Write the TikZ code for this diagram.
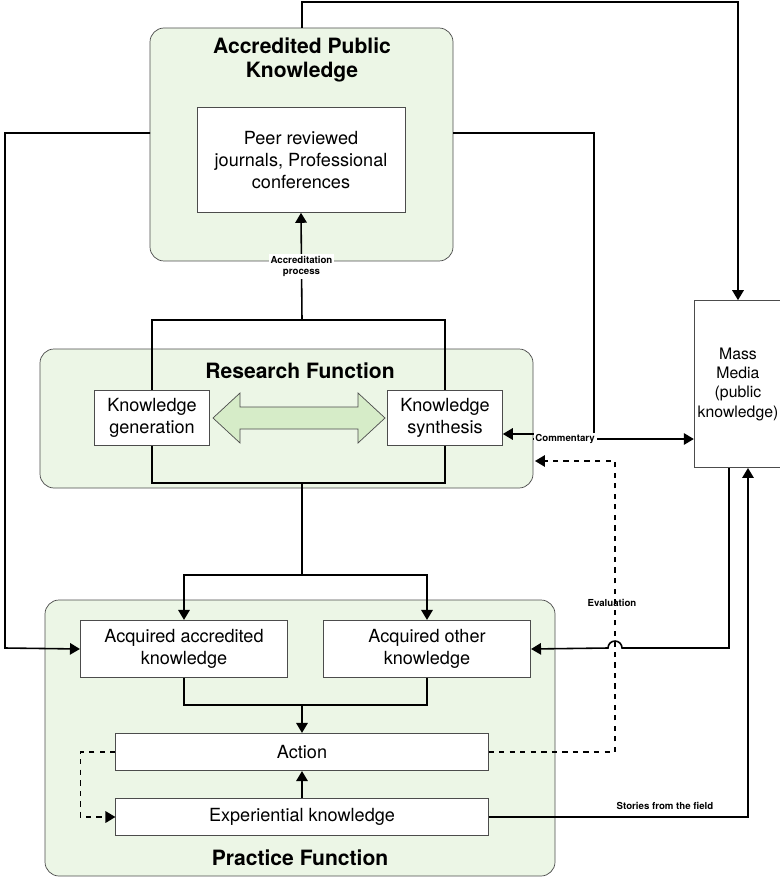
\documentclass[tikz,border=0pt]{standalone}
\usepackage{fontspec}
\setmainfont{TeX Gyre Heros}
\usetikzlibrary{positioning, arrows.meta}
\definecolor{panelgreen}{RGB}{236,246,230}
\definecolor{arrowgreen}{RGB}{214,236,200}
\begin{document}
\begin{tikzpicture}[x=0.02cm, y=-0.02cm, >={Triangle[scale=1.1]},
	panel/.style={draw=black!70, fill=panelgreen, rounded corners=8pt},
	box/.style={draw=black!70, fill=white, align=center, font=\fontsize{10.3}{12.5}\selectfont, inner sep=2pt},
	title/.style={font=\fontsize{12}{14}\selectfont\bfseries, align=center},
	small/.style={font=\fontsize{5.5}{6.5}\selectfont\bfseries, align=center, fill=white, inner sep=1pt},
	link/.style={line width=0.9pt}]
	\useasboundingbox (0,0) rectangle (780,878);
	
	% panels
	\draw[panel] (150,28) rectangle (453,261);
	\draw[panel] (40,349) rectangle (533,488);
	\draw[panel] (45,600) rectangle (555,876);
	\node[title] (apk) at (302,60) {Accredited Public\\Knowledge};
	\node[title] (rf) at (300,371) {Research Function};
	\node[title] (pf) at (300,858) {Practice Function};
	
	% boxes
	\node[box, minimum width=4.16cm, minimum height=2.1cm] (peer) at (301,160) {Peer reviewed\\journals, Professional\\conferences};
	
	% bracket
	\draw[link] (152,320) rectangle (445,483);
	\node[box, minimum width=2.3cm, minimum height=1.1cm] (kgen) at (152,418) {Knowledge\\generation};
	\node[box, minimum width=2.3cm, minimum height=1.1cm] (ksyn) at (445,418) {Knowledge\\synthesis};
	% double arrow between them
	\draw[draw=black!70, fill=arrowgreen] (213,418) -- (240,393) -- (240,407) -- (358,407) -- (358,393)
		-- (385,418) -- (358,443) -- (358,429) -- (240,429) -- (240,443) -- cycle;
	\coordinate (brT) at (302,320);
	\coordinate (brB) at (302,483);
	\draw[link,->] (brT) -- (peer.south) node[small, pos=0.5] {Accreditation\\process};
	
	% practice boxes
	\node[box, minimum width=4.15cm, minimum height=1.15cm] (acc) at (184,649) {Acquired accredited\\knowledge};
	\node[box, minimum width=4.15cm, minimum height=1.15cm] (oth) at (427,649) {Acquired other\\knowledge};
	\node[box, minimum width=7.45cm, minimum height=0.75cm] (act) at (302,752) {Action};
	\node[box, minimum width=7.45cm, minimum height=0.75cm] (exp) at (302,817) {Experiential knowledge};
	\node[box, font=\fontsize{9}{11}\selectfont, minimum width=1.62cm, minimum height=3.34cm] (mm) at (738,384) {Mass\\Media\\(public\\knowledge)};
	
	% research to practice
	\coordinate (split) at (302,575);
	\draw[link] (brB) -- (split);
	\draw[link,->] (split) -| (acc.north);
	\draw[link,->] (split) -| (oth.north);
	\coordinate (join) at (302,705);
	\draw[link] (acc.south) |- (join) -| (oth.south);
	\draw[link,->] (join) -- (act.north);
	\draw[link,->] (exp.north) -- (act.south);
	\draw[link,dashed,->] (act.west) -- ++(-35,0) |- (exp.west);
	
	% evaluation
	\coordinate (ev) at (615,461);
	\draw[link,dashed,->] (act.east) -| (ev) -- (535,461);
	\node[small, fill=none] at (612,603) {Evaluation};
	
	% outer connectors
	\draw[link,->] (302,28) -- (302,2) -| (mm.north);
	\draw[link,->] (150,133) -| (5,648) -- (acc.west);
	\draw[link,->] (453,133) -| (594,434) -- (ksyn.east |- 0,434);
	\draw[link,->] (533,439) -- (mm.west |- 0,439) node[small, pos=0.2] {Commentary};
	\draw[link,->] (729,468) |- (622,648) arc[start angle=0, end angle=-180, radius=7] -- (oth.east);
	\draw[link,->] (exp.east) -| (748,468);
	\node[small, fill=none] at (665,806) {Stories from the field};
\end{tikzpicture}
\end{document}
